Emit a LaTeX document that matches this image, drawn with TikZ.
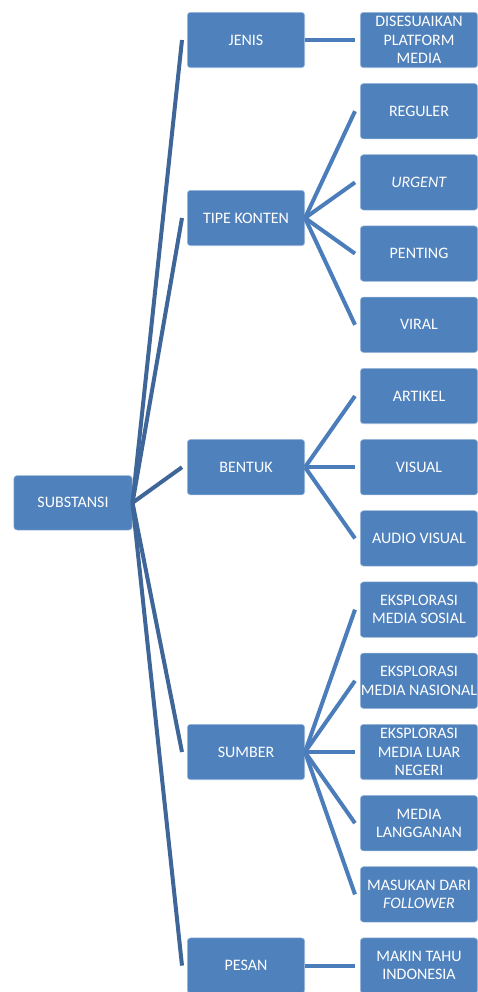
\documentclass[tikz,border=0pt]{standalone}
\usepackage{fontspec}
\setmainfont{Carlito}
\usetikzlibrary{positioning,calc}

\definecolor{boxblue}{HTML}{4F81BD}
\definecolor{wireone}{HTML}{3E6699}
\definecolor{wiretwo}{HTML}{4A7DBA}

\begin{document}
\begin{tikzpicture}[node distance=11.4pt and 41.25pt,
    box/.style={rectangle, rounded corners=2.5pt, fill=boxblue, draw=boxblue!55!white, line width=0.4pt,
                minimum width=88.1pt, minimum height=41.6pt, inner sep=0pt, align=center,
                text=white, font=\fontsize{12}{13.7}\selectfont},
    wone/.style={draw=wireone, line width=3pt},
    wtwo/.style={draw=wiretwo, line width=3pt}]

    \useasboundingbox (0,0) rectangle (358.5pt,-744pt);

    % leaves, one column
    \node[box] (dis)  at (314.25pt,-30pt)  {DISESUAIKAN\\PLATFORM\\MEDIA};
    \node[box] (reg)  [below=of dis]       {REGULER};
    \node[box] (urg)  [below=of reg]       {\textit{URGENT}};
    \node[box] (pen)  [below=of urg]       {PENTING};
    \node[box] (vir)  [below=of pen]       {VIRAL};
    \node[box] (art)  [below=of vir]       {ARTIKEL};
    \node[box] (vis)  [below=of art]       {VISUAL};
    \node[box] (aud)  [below=of vis]       {AUDIO VISUAL};
    \node[box] (eso)  [below=of aud]       {EKSPLORASI\\MEDIA SOSIAL};
    \node[box] (ena)  [below=of eso]       {EKSPLORASI\\MEDIA NASIONAL};
    \node[box] (elu)  [below=of ena]       {EKSPLORASI\\MEDIA LUAR\\NEGERI};
    \node[box] (lan)  [below=of elu]       {MEDIA\\LANGGANAN};
    \node[box] (fol)  [below=of lan]       {MASUKAN DARI\\\textit{FOLLOWER}};
    \node[box] (mak)  [below=of fol]       {MAKIN TAHU\\INDONESIA};

    % middle level
    \node[box] (jen)  [left=of dis]                          {JENIS};
    \node[box] (tip)  at ($(reg)!.5!(vir)+(-129.75pt,0)$)    {TIPE KONTEN};
    \node[box] (ben)  [left=of vis]                          {BENTUK};
    \node[box] (sum)  [left=of elu]                          {SUMBER};
    \node[box] (pes)  [left=of mak]                          {PESAN};

    % root
    \node[box, minimum width=88.85pt, minimum height=40.85pt] (sub) at ($(jen)!.5!(pes)+(-129.75pt,0)$) {SUBSTANSI};

    \path[wone] (sub.east) edge ([xshift=-3.75pt]jen.west)
                           edge ([xshift=-3.75pt]tip.west)
                           edge ([xshift=-3.75pt]ben.west)
                           edge ([xshift=-3.75pt]sum.west)
                           edge ([xshift=-3.75pt]pes.west);

    \path[wtwo] (jen.east) edge ([xshift=-3.75pt]dis.west)
                (tip.east) edge ([xshift=-3.75pt]reg.west)
                           edge ([xshift=-3.75pt]urg.west)
                           edge ([xshift=-3.75pt]pen.west)
                           edge ([xshift=-3.75pt]vir.west)
                (ben.east) edge ([xshift=-3.75pt]art.west)
                           edge ([xshift=-3.75pt]vis.west)
                           edge ([xshift=-3.75pt]aud.west)
                (sum.east) edge ([xshift=-3.75pt]eso.west)
                           edge ([xshift=-3.75pt]ena.west)
                           edge ([xshift=-3.75pt]elu.west)
                           edge ([xshift=-3.75pt]lan.west)
                           edge ([xshift=-3.75pt]fol.west)
                (pes.east) edge ([xshift=-3.75pt]mak.west);

\end{tikzpicture}
\end{document}
